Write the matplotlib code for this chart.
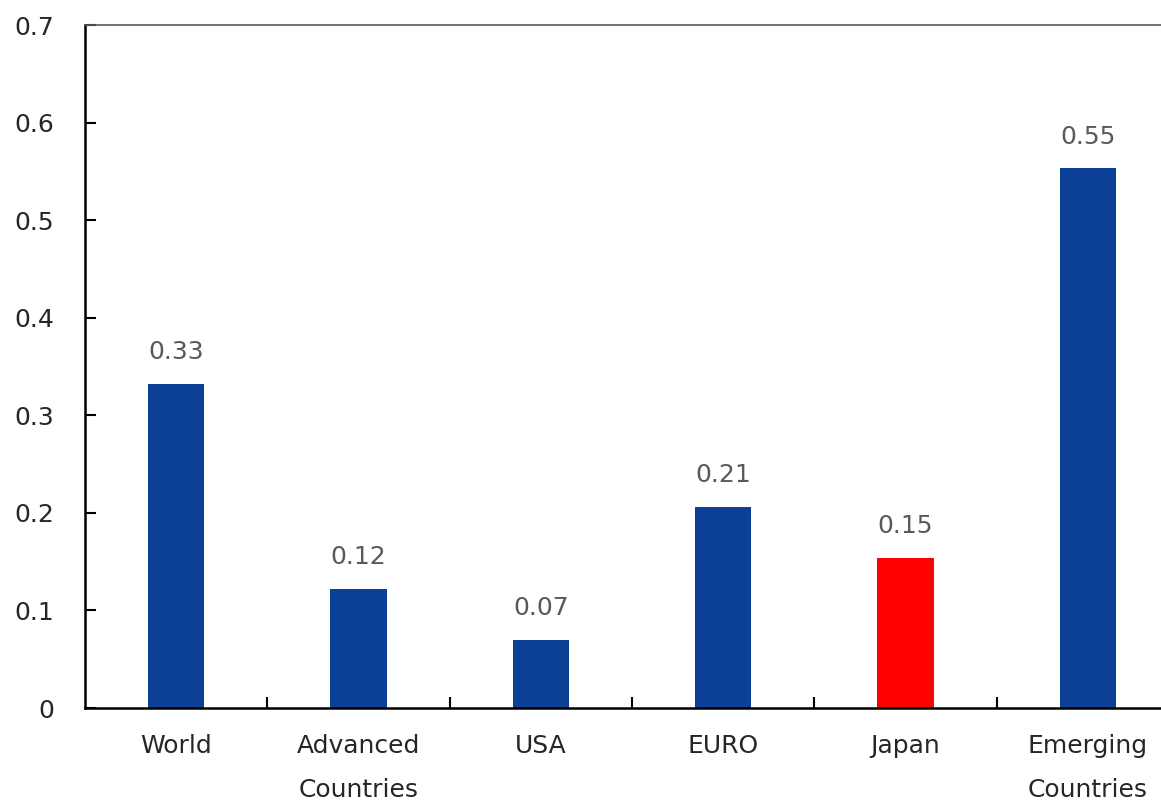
import matplotlib.pyplot as plt
import numpy as np

# chart data
categories = ['World', 'Advanced\nCountries', 'USA', 'EURO', 'Japan', 'Emerging\nCountries']
values = [0.332, 0.122, 0.070, 0.206, 0.154, 0.553]
labels = ['0.33', '0.12', '0.07', '0.21', '0.15', '0.55']
colors = ['#0c3f96', '#0c3f96', '#0c3f96', '#0c3f96', '#ff0000', '#0c3f96']

fig = plt.figure(figsize=(11.61, 8.02), dpi=100)
ax = fig.add_axes([0.0732, 0.1172, 0.9423, 0.8516])

x = np.arange(len(categories))
ax.bar(x, values, width=0.31, color=colors)

for xi, v, lab in zip(x, values, labels):
    ax.annotate(lab, (xi, v), xytext=(0, 23), textcoords='offset points',
                ha='center', va='center', fontsize=18, color='#595959')

ax.set_xlim(-0.5, len(categories) - 0.5)
ax.set_ylim(0, 0.7)
ax.set_yticks(np.arange(0, 0.71, 0.1))
ax.set_yticklabels(['0', '0.1', '0.2', '0.3', '0.4', '0.5', '0.6', '0.7'])

ax.set_xticks(x)
ax.set_xticklabels(categories, linespacing=2.05)
ax.set_xticks(np.arange(0.5, len(categories) - 0.5, 1), minor=True)
ax.tick_params(axis='x', which='major', length=0, pad=19, labelsize=18, labelcolor='#262626')
ax.tick_params(axis='x', which='minor', direction='in', length=8, width=1.5, color='black')
ax.tick_params(axis='y', direction='in', length=8, width=1.5, pad=22, labelsize=18, labelcolor='#262626')

ax.spines['left'].set_linewidth(1.8)
ax.spines['bottom'].set_linewidth(1.8)
ax.spines['top'].set_color('#595959')
ax.spines['top'].set_linewidth(1.2)
ax.spines['right'].set_visible(False)

fig.savefig('out.png', dpi=100)
